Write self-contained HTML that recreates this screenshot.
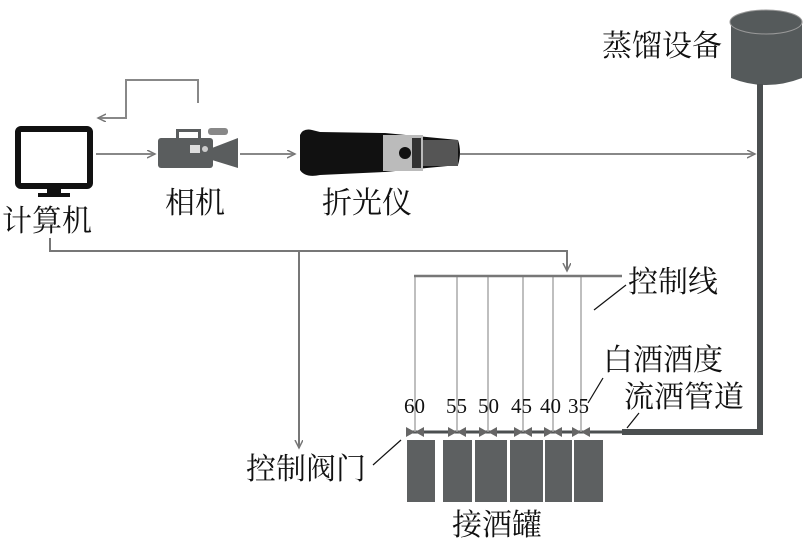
<!DOCTYPE html>
<html><head><meta charset="utf-8"><style>
body{margin:0;background:#fff;}
svg{display:block}
text{font-family:"Liberation Serif","Noto Serif CJK SC",serif;fill:#111}
.cj{font-family:"Liberation Serif","Noto Serif CJK SC",serif}
</style></head><body>
<svg width="805" height="542" viewBox="0 0 805 542" xmlns="http://www.w3.org/2000/svg">
<defs><marker id="a" markerWidth="10" markerHeight="10" refX="8" refY="4" orient="auto" markerUnits="userSpaceOnUse"><path d="M0,0 L8,4 L0,8" fill="none" stroke="#777" stroke-width="1.5"/></marker></defs>
<g stroke="#888" stroke-width="2" fill="none">
<polyline points="198,103 198,80 126,80 126,118 98,118" marker-end="url(#a)"/>
<line x1="96" y1="154" x2="155" y2="154" marker-end="url(#a)"/>
<line x1="240" y1="154" x2="295" y2="154" marker-end="url(#a)"/>
<line x1="460" y1="154" x2="755" y2="154" marker-end="url(#a)"/>
<polyline points="50,238 50,251 567,251 567,271" marker-end="url(#a)" stroke="#777"/>
<line x1="299" y1="251" x2="299" y2="448" marker-end="url(#a)" stroke="#777"/>
</g>
<!-- monitor -->
<rect x="18" y="129" width="72" height="57" rx="3" fill="#fff" stroke="#111" stroke-width="6"/>
<rect x="47" y="188" width="14" height="6" fill="#111"/>
<rect x="38" y="193" width="32" height="4" fill="#111"/>
<!-- camera -->
<g fill="#5a5d5e">
<rect x="158" y="138" width="55" height="30" rx="3"/>
<polygon points="212,148 238,138 238,168 212,160"/>
<rect x="176" y="129" width="25" height="3"/><rect x="176" y="129" width="3" height="10"/><rect x="198" y="129" width="3" height="10"/>
<rect x="208" y="128" width="20" height="7" rx="3" fill="#888"/>
</g>
<rect x="190" y="145" width="10" height="8" fill="#ddd"/><circle cx="205" cy="149" r="3" fill="#ccc"/>
<!-- refractometer -->
<path d="M300,135 Q303,128 312,130 L320,132 L385,133 L458,140 Q462,152 458,165 L385,172 L320,175 Q305,178 300,170 Z" fill="#111"/>
<rect x="383" y="135" width="40" height="36" fill="#bbb"/>
<rect x="423" y="140" width="35" height="26" fill="#555"/>
<circle cx="405" cy="153" r="6" fill="#111"/>
<rect x="412" y="138" width="9" height="30" fill="#333"/>
<!-- distill -->
<path d="M731,22 L731,78 Q766,92 802,78 L802,22 Z" fill="#555a5b"/>
<ellipse cx="766" cy="22" rx="36" ry="12" fill="#555a5b" stroke="#999" stroke-width="1"/>
<polyline points="760,84 760,432 622,432" fill="none" stroke="#4b4f50" stroke-width="6"/>
<line x1="408" y1="432" x2="624" y2="432" stroke="#4b4f50" stroke-width="3"/>
<!-- control lines -->
<g stroke="#aaa" stroke-width="1.5">
<line x1="415" y1="276" x2="415" y2="432"/><line x1="457" y1="276" x2="457" y2="432"/>
<line x1="488" y1="276" x2="488" y2="432"/><line x1="523" y1="276" x2="523" y2="432"/>
<line x1="553" y1="276" x2="553" y2="432"/><line x1="581" y1="276" x2="581" y2="432"/>
</g>
<line x1="414" y1="276" x2="622" y2="276" stroke="#777" stroke-width="2.5"/>
<g fill="#666">
<path d="M406,427 L415,432 L406,437 Z M424,427 L415,432 L424,437 Z"/>
<path d="M448,427 L457,432 L448,437 Z M466,427 L457,432 L466,437 Z"/>
<path d="M479,427 L488,432 L479,437 Z M497,427 L488,432 L497,437 Z"/>
<path d="M514,427 L523,432 L514,437 Z M532,427 L523,432 L532,437 Z"/>
<path d="M544,427 L553,432 L544,437 Z M562,427 L553,432 L562,437 Z"/>
<path d="M572,427 L581,432 L572,437 Z M590,427 L581,432 L590,437 Z"/>
</g>
<g fill="#5d6061">
<rect x="407" y="440" width="28" height="62"/><rect x="443" y="440" width="29" height="62"/>
<rect x="475" y="440" width="32" height="62"/><rect x="510" y="440" width="33" height="62"/>
<rect x="545" y="440" width="27" height="62"/><rect x="574" y="440" width="29" height="62"/>
</g>
<g stroke="#111" stroke-width="1.2">
<line x1="594" y1="310" x2="626" y2="285"/><line x1="588" y1="403" x2="603" y2="378"/>
<line x1="627" y1="428" x2="639" y2="413"/><line x1="373" y1="465" x2="401" y2="440"/>
</g>
<g font-size="21">
<text x="404" y="413">60</text><text x="446" y="413">55</text><text x="478" y="413">50</text>
<text x="511" y="413">45</text><text x="540" y="413">40</text><text x="568" y="413">35</text>
</g>
<g font-size="30">
<text class="cj" x="2" y="231">计算机</text>
<text class="cj" x="165" y="213">相机</text>
<text class="cj" x="322" y="213">折光仪</text>
<text class="cj" x="602" y="56">蒸馏设备</text>
<text class="cj" x="628" y="292">控制线</text>
<text class="cj" x="603" y="370">白酒酒度</text>
<text class="cj" x="624" y="407">流酒管道</text>
<text class="cj" x="246" y="479">控制阀门</text>
<text class="cj" x="452" y="535">接酒罐</text>
</g>
</svg>
</body></html>
